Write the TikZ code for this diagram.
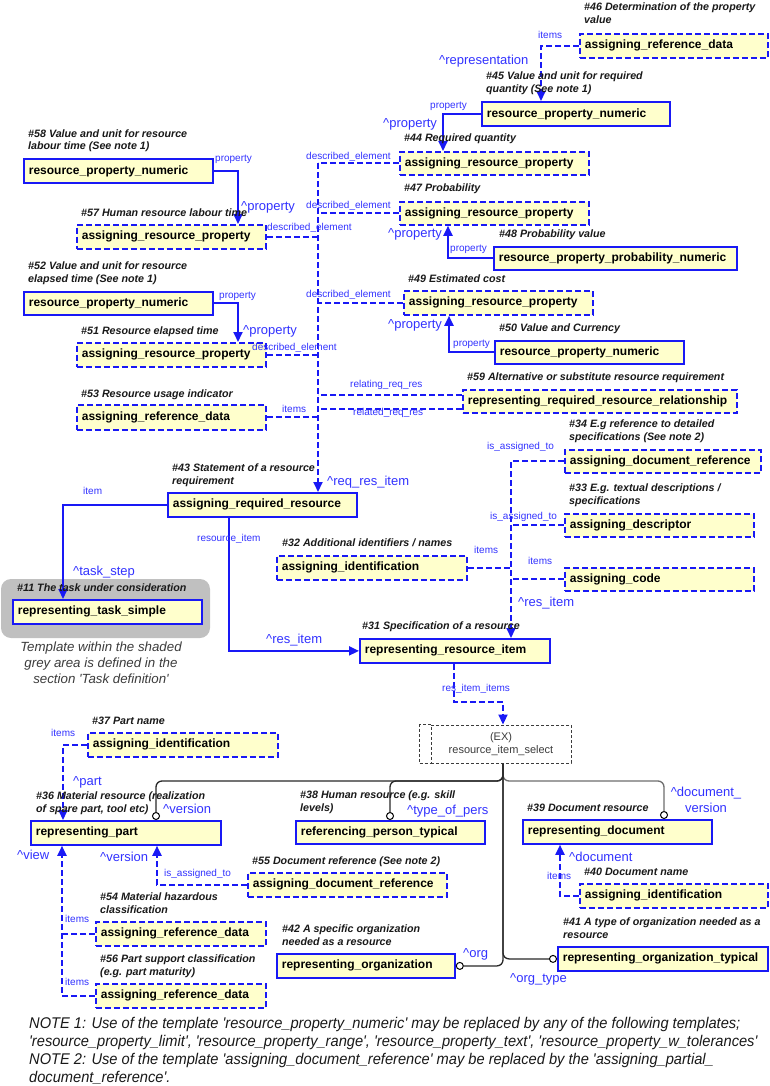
\documentclass[tikz,border=0pt]{standalone}
\usepackage{fontspec}
\usetikzlibrary{arrows.meta}
\newfontfamily\arial{Liberation Sans}
\newfontfamily\arialnote[FakeStretch=0.945]{Liberation Sans}
\definecolor{boxfill}{RGB}{255,255,204}
\definecolor{bblue}{RGB}{25,25,245}
\definecolor{lblue}{RGB}{50,50,255}
\definecolor{capcol}{RGB}{25,25,25}
\definecolor{selcol}{RGB}{40,40,40}
\definecolor{selcolb}{RGB}{110,110,110}
\definecolor{greyarea}{RGB}{192,192,192}
\definecolor{excol}{RGB}{60,60,60}
\newcommand\ftbox{\arial\bfseries\fontsize{12}{14}\selectfont}
\newcommand\ftcap{\arial\bfseries\itshape\fontsize{10.7}{13}\selectfont}
\newcommand\ftlab{\arial\fontsize{10}{12}\selectfont}
\newcommand\ftbig{\arial\fontsize{13}{16}\selectfont}
\newcommand\ftex{\arial\fontsize{11}{13}\selectfont}
\newcommand\fttmpl{\arial\itshape\fontsize{13.3}{16}\selectfont}
\newcommand\ftnote{\arialnote\itshape\fontsize{15.5}{18}\selectfont}
\newcommand{\bx}[7]{%
  \pgfmathsetmacro{\bxw}{#4-#2}%
  \pgfmathsetmacro{\bxh}{#5-#3}%
  \pgfmathsetmacro{\bxt}{#4-#2-10}%
  \node[#6, anchor=north west, minimum width=\bxw pt, minimum height=\bxh pt, text width=\bxt pt] (#1) at (#2,#3) {#7};}
\begin{document}
\begin{tikzpicture}[x=1pt,y=-1pt,
  box/.style={rectangle, fill=boxfill, draw=bblue, line width=1.8pt, inner xsep=5pt, inner ysep=0pt, align=left, font=\ftbox, text=black},
  solidbox/.style={box},
  dashbox/.style={box, dash pattern=on 6pt off 3pt},
  conn/.style={draw=bblue, line width=1.9pt},
  dconn/.style={conn, dash pattern=on 6pt off 3pt},
  arr/.style={-{Triangle[length=10pt,width=9pt]}},
  captxt/.style={font=\ftcap, text=capcol, anchor=base west, inner sep=0pt, align=left},
  rolelab/.style={font=\ftlab, text=lblue, anchor=base west, inner sep=0pt},
  rolebig/.style={font=\ftbig, text=lblue, anchor=base west, inner sep=0pt},
  selline/.style={draw=selcol, line width=1.3pt, rounded corners=6pt},
  selcirc/.style={circle, draw=black, fill=white, line width=1pt, minimum size=7pt, inner sep=0pt},
  exbox/.style={draw=excol, dash pattern=on 3pt off 2pt, line width=0.9pt, font=\ftex, text=excol, align=center, minimum width=140pt, minimum height=38pt, inner sep=0pt},
  exline/.style={draw=excol, dash pattern=on 3pt off 2pt, line width=0.9pt}
]
\useasboundingbox (0,0) rectangle (769,1086);
\fill[white] (0,0) rectangle (769,1086);
% shaded template area
\fill[greyarea, rounded corners=10pt] (1,579) rectangle (210,638);

% boxes: name, x1, y1, x2, y2, style, text
\bx{n46}{579}{33}{767}{57}{dashbox}{assigning\_reference\_data}
\bx{n45}{481}{101}{669}{125}{solidbox}{resource\_property\_numeric}
\bx{n58}{23}{158}{212}{182}{solidbox}{resource\_property\_numeric}
\bx{n44}{399}{151}{588}{174}{dashbox}{assigning\_resource\_property}
\bx{n47}{399}{201}{588}{224}{dashbox}{assigning\_resource\_property}
\bx{n57}{76}{224}{265}{248}{dashbox}{assigning\_resource\_property}
\bx{n48}{493}{246}{736}{269}{solidbox}{resource\_property\_probability\_numeric}
\bx{n52}{23}{291}{212}{314}{solidbox}{resource\_property\_numeric}
\bx{n49}{403}{290}{592}{314}{dashbox}{assigning\_resource\_property}
\bx{n50}{494}{340}{683}{363}{solidbox}{resource\_property\_numeric}
\bx{n51}{76}{342}{265}{366}{dashbox}{assigning\_resource\_property}
\bx{n59}{462}{389}{736}{412}{dashbox}{representing\_required\_resource\_relationship}
\bx{n53}{76}{404}{265}{429}{dashbox}{assigning\_reference\_data}
\bx{n34}{564}{449}{760}{472}{dashbox}{assigning\_document\_reference}
\bx{n43}{167}{492}{356}{516}{solidbox}{assigning\_required\_resource}
\bx{n33}{564}{513}{753}{536}{dashbox}{assigning\_descriptor}
\bx{n32}{276}{555}{466}{579}{dashbox}{assigning\_identification}
\bx{ncode}{564}{567}{753}{590}{dashbox}{assigning\_code}
\bx{n11}{12}{599}{201}{623}{solidbox}{representing\_task\_simple}
\bx{n31}{359}{638}{549}{662}{solidbox}{representing\_resource\_item}
\bx{n37}{87}{732}{277}{756}{dashbox}{assigning\_identification}
\bx{n36}{30}{820}{220}{844}{solidbox}{representing\_part}
\bx{n38}{295}{820}{484}{843}{solidbox}{referencing\_person\_typical}
\bx{n39}{522}{819}{711}{843}{solidbox}{representing\_document}
\bx{n55}{247}{872}{446}{896}{dashbox}{assigning\_document\_reference}
\bx{n40}{579}{883}{767}{907}{dashbox}{assigning\_identification}
\bx{n54}{95}{921}{265}{945}{dashbox}{assigning\_reference\_data}
\bx{n41}{557}{946}{767}{970}{solidbox}{representing\_organization\_typical}
\bx{n42}{276}{953}{454}{977}{solidbox}{representing\_organization}
\bx{n56}{95}{983}{265}{1007}{dashbox}{assigning\_reference\_data}

% select box
\node[exbox] (ex) at (501,744) {(EX)\\resource\_item\_select};
\draw[exline] (ex.north west) -- ++(-11,0) |- (ex.south west);

% select circles
\node[selcirc, anchor=south] (o36) at (156,0 |- n36.north) {};
\node[selcirc, anchor=south] (o38) at (390,0 |- n38.north) {};
\node[selcirc, anchor=south] (o39) at (664,0 |- n39.north) {};
\node[selcirc, anchor=east] (o41) at (n41.west) {};
\node[selcirc, anchor=west] (o42) at (n42.east) {};
\coordinate (exb) at (503,0 |- ex.south);
\draw[selline] (exb) |- (156,781) -- (o36.north);
\draw[selline] (exb) |- (390,781) -- (o38.north);
\draw[selline, draw=selcolb] (exb) |- (664,781) -- (o39.north);
\draw[selline] (exb) |- (o41.west);
\draw[selline] (exb) |- (o42.east);

% blue connectors
\draw[dconn,arr] (n46.west) -| (541,0 |- n45.north);
\draw[conn,arr] (n45.west) -| (443,0 |- n44.north);
\draw[conn,arr] (n48.west) -| (448,0 |- n47.south);
\draw[conn,arr] (n50.west) -| (449,0 |- n49.south);
\draw[conn,arr] (n58.east) -| (238,0 |- n57.north);
\draw[conn,arr] (n52.east) -| (238,0 |- n51.north);
\coordinate (t1) at (318,0 |- n44.west);
\draw[dconn,arr] (t1) -- (318,0 |- n43.north);
\draw[dconn] (n44.west) -- (t1);
\draw[dconn] (n47.west) -- (318,0 |- n47.west);
\draw[dconn] (n57.east) -- (318,0 |- n57.east);
\draw[dconn] (n49.west) -- (318,0 |- n49.west);
\draw[dconn] (n51.east) -- (318,0 |- n51.east);
\draw[dconn] (n53.east) -- (318,0 |- n53.east);
\draw[dconn] ([yshift=6.5pt]n59.west) -- +(-144,0);
\draw[dconn] ([yshift=-7.5pt]n59.west) -- +(-144,0);
\draw[conn,arr] (n43.west) -| (63,0 |- n11.north);
\draw[conn,arr] (229,0 |- n43.south) |- (n31.west);
\draw[dconn,arr] (n34.west) -| (511,0 |- n31.north);
\draw[dconn] (n33.west) -- (511,0 |- n33.west);
\draw[dconn] (ncode.west) -- (511,0 |- ncode.west);
\draw[dconn] (n32.east) -- (511,0 |- n32.east);
\draw[dconn,arr] (454,0 |- n31.south) |- (503,702) -- (503,0 |- ex.north);
\draw[dconn,arr] (n37.west) -| (63,0 |- n36.north);
\draw[dconn,arr] (n56.west) -| (62,0 |- n36.south);
\draw[dconn] (n54.west) -- (62,0 |- n54.west);
\draw[dconn,arr] (n55.west) -| (157,0 |- n36.south);
\draw[dconn,arr] (n40.west) -| (560,0 |- n39.south);

% captions (base anchor = baseline of the last line)
\node[captxt] (c46) at (584,24) {\#46 Determination of the property\\value};
\node[captxt] (c45) at (486,93) {\#45 Value and unit for required\\quantity (See note 1)};
\node[captxt] (c58) at (28,150) {\#58 Value and unit for resource\\labour time (See note 1)};
\node[captxt] (c44) at (404,142) {\#44 Required quantity};
\node[captxt] (c47) at (404,192) {\#47 Probability};
\node[captxt] (c57) at (81,216) {\#57 Human resource labour time};
\node[captxt] (c48) at (499,237) {\#48 Probability value};
\node[captxt] (c52) at (28,282) {\#52 Value and unit for resource\\elapsed time (See note 1)};
\node[captxt] (c49) at (408,282) {\#49 Estimated cost};
\node[captxt] (c50) at (499,331) {\#50 Value and Currency};
\node[captxt] (c51) at (81,334) {\#51 Resource elapsed time};
\node[captxt] (c59) at (467,380) {\#59 Alternative or substitute resource requirement};
\node[captxt] (c53) at (81,397) {\#53 Resource usage indicator};
\node[captxt] (c34) at (569,440) {\#34 E.g reference to detailed\\specifications (See note 2)};
\node[captxt] (c43) at (172,484) {\#43 Statement of a resource\\requirement};
\node[captxt] (c33) at (569,504) {\#33 E.g. textual descriptions /\\specifications};
\node[captxt] (c32) at (282,546) {\#32 Additional identifiers / names};
\node[captxt] (c11) at (17,591) {\#11 The task under consideration};
\node[captxt] (c31) at (362,629) {\#31 Specification of a resource};
\node[captxt] (c37) at (92,724) {\#37 Part name};
\node[captxt] (c36) at (36,812) {\#36 Material resource (realization\\of spare part, tool etc)};
\node[captxt] (c38) at (300,811) {\#38 Human resource (e.g. skill\\levels)};
\node[captxt] (c39) at (527,811) {\#39 Document resource};
\node[captxt] (c55) at (252,864) {\#55 Document reference (See note 2)};
\node[captxt] (c40) at (584,875) {\#40 Document name};
\node[captxt] (c54) at (100,913) {\#54 Material hazardous\\classification};
\node[captxt] (c41) at (563,938) {\#41 A type of organization needed as a\\resource};
\node[captxt] (c42) at (282,945) {\#42 A specific organization\\needed as a resource};
\node[captxt] (c56) at (100,975) {\#56 Part support classification\\(e.g. part maturity)};

% small role labels
\node[rolelab] (r1) at (538,39) {items};
\node[rolelab] (r2) at (430,109) {property};
\node[rolelab] (r3) at (306,160) {described\_element};
\node[rolelab] (r4) at (215,162) {property};
\node[rolelab] (r5) at (306,208) {described\_element};
\node[rolelab] (r6) at (267,230) {described\_element};
\node[rolelab] (r7) at (450,251) {property};
\node[rolelab] (r8) at (219,298) {property};
\node[rolelab] (r9) at (306,297) {described\_element};
\node[rolelab] (r10) at (453,346) {property};
\node[rolelab] (r11) at (252,350) {described\_element};
\node[rolelab] (r12) at (350,387) {relating\_req\_res};
\node[rolelab] (r13) at (282,412) {items};
\node[rolelab] (r14) at (353,415) {related\_req\_res};
\node[rolelab] (r15) at (487,449) {is\_assigned\_to};
\node[rolelab] (r16) at (83,494) {item};
\node[rolelab] (r17) at (490,519) {is\_assigned\_to};
\node[rolelab] (r18) at (197,541) {resource\_item};
\node[rolelab] (r19) at (474,553) {items};
\node[rolelab] (r20) at (528,564) {items};
\node[rolelab] (r21) at (442,691) {res\_item\_items};
\node[rolelab] (r22) at (51,736) {items};
\node[rolelab] (r23) at (164,876) {is\_assigned\_to};
\node[rolelab] (r24) at (547,879) {items};
\node[rolelab] (r25) at (65,922) {items};
\node[rolelab] (r26) at (65,985) {items};

% large role labels
\node[rolebig] (b1) at (439,65) {\textasciicircum representation};
\node[rolebig] (b2) at (383,128) {\textasciicircum property};
\node[rolebig] (b3) at (241,211) {\textasciicircum property};
\node[rolebig] (b4) at (388,237) {\textasciicircum property};
\node[rolebig] (b5) at (388,328) {\textasciicircum property};
\node[rolebig] (b6) at (243,334) {\textasciicircum property};
\node[rolebig] (b7) at (327,485) {\textasciicircum req\_res\_item};
\node[rolebig] (b8) at (73,575) {\textasciicircum task\_step};
\node[rolebig] (b9) at (518,606) {\textasciicircum res\_item};
\node[rolebig] (b10) at (266,643) {\textasciicircum res\_item};
\node[rolebig] (b11) at (73,785) {\textasciicircum part};
\node[rolebig, anchor=base, align=center] (b12) at (706,812) {\textasciicircum document\_\\version};
\node[rolebig] (b13) at (163,813) {\textasciicircum version};
\node[rolebig] (b14) at (407,814) {\textasciicircum type\_of\_pers};
\node[rolebig] (b15) at (17,859) {\textasciicircum view};
\node[rolebig] (b16) at (100,861) {\textasciicircum version};
\node[rolebig] (b17) at (569,861) {\textasciicircum document};
\node[rolebig] (b18) at (463,957) {\textasciicircum org};
\node[rolebig] (b19) at (510,982) {\textasciicircum org\_type};

% template note
\node[font=\fttmpl, text=excol, anchor=base, align=center, inner sep=0pt] (tmpl) at (101,683)
  {Template within the shaded\\grey area is defined in the\\section 'Task definition'};

% notes
\node[font=\ftnote, text=capcol, anchor=base west, align=left, inner sep=0pt] (notes) at (29,1082)
  {NOTE 1: Use of the template 'resource\_property\_numeric' may be replaced by any of the following templates;\\
   'resource\_property\_limit', 'resource\_property\_range', 'resource\_property\_text', 'resource\_property\_w\_tolerances'\\
   NOTE 2: Use of the template 'assigning\_document\_reference' may be replaced by the 'assigning\_partial\_\\
   document\_reference'.};
\end{tikzpicture}
\end{document}
